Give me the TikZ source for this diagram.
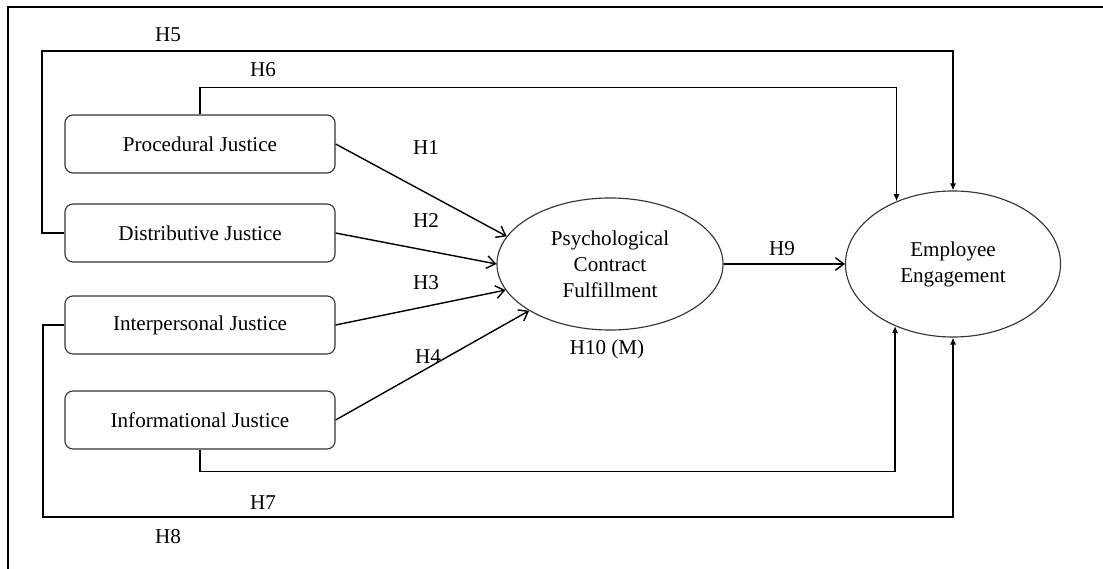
\documentclass[tikz,border=0pt]{standalone}
\usepackage{fontspec}
\setmainfont{Liberation Serif}
\usetikzlibrary{arrows.meta,shapes.geometric}

\begin{document}
\begin{tikzpicture}[x=0.025cm,y=-0.025cm,
    txt/.style={font=\fontsize{15}{18.5}\selectfont},
    box/.style={txt,draw=black!80,line width=0.8pt,rounded corners=0.2cm,
      minimum width=6.75cm,minimum height=1.45cm,inner sep=0pt},
    oval/.style={txt,draw=black!80,line width=0.8pt,ellipse,inner sep=0pt,align=center},
    lbl/.style={txt},
    open/.style={line width=1pt,-{Straight Barb[length=6pt,width=9pt]}},
    tip/.style={line width=1pt,-{Latex[length=5pt,width=4.5pt]}}]

  %--- Cadre ---
  \useasboundingbox (0,0) rectangle (1103,569);
  \draw[line width=2pt] (8,569) -- (8,7) -- (1103,7);

  %--- Blocs de gauche ---
  \node[box] (proc)  at (200,144) {Procedural Justice};
  \node[box] (dist)  at (200,233) {Distributive Justice};
  \node[box] (inter) at (200,325) {Interpersonal Justice};
  \node[box] (info)  at (200,420) {Informational Justice};

  %--- Ellipses ---
  \node[oval,minimum width=5.65cm,minimum height=3.3cm] (pcf) at (610,264)
    {Psychological\\Contract\\Fulfillment};
  \node[oval,minimum width=5.375cm,minimum height=3.65cm] (ee) at (953,264)
    {Employee\\Engagement};

  %--- Points de passage ---
  \coordinate (h5c) at (42,51);
  \coordinate (h8c) at (43,517);

  %--- Effets sur PCF ---
  \draw[open] (proc.east)  -- (pcf.165.8);
  \draw[open] (dist.east)  -- (pcf.180);
  \draw[open] (inter.east) -- (pcf.194.7);
  \draw[open] (info.east)  -- (pcf.210.9);
  \draw[open] (pcf.east)   -- (ee.west);

  %--- Effets directs sur EE ---
  \draw[tip] (dist.west) -| (h5c) -| (ee.north);
  \draw[tip] (proc.north) -- ++(0,-27) -| (ee.132.6);
  \draw[tip] (info.south) -- ++(0,22) -| (ee.227.4);
  \draw[tip] (inter.west) -| (h8c) -| (ee.south);

  %--- Hypothèses ---
  \node[lbl] (l1) at (426,148) {H1};
  \node[lbl] (l2) at (426,221) {H2};
  \node[lbl] (l3) at (426,283) {H3};
  \node[lbl] (l4) at (428,357) {H4};
  \node[lbl] (l5) at (168,35)  {H5};
  \node[lbl] (l6) at (263,70)  {H6};
  \node[lbl] (l7) at (263,503) {H7};
  \node[lbl] (l8) at (168,537) {H8};
  \node[lbl] (l9) at (782,249) {H9};
  \node[lbl] (l10) at (607,349) {H10 (M)};

\end{tikzpicture}
\end{document}
